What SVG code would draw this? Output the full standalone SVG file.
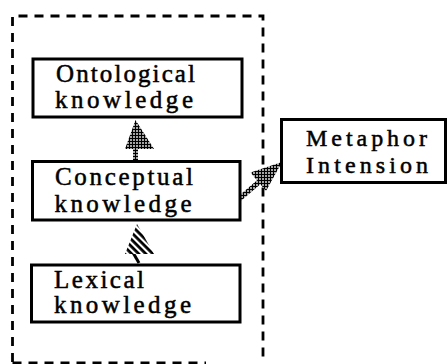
<svg xmlns="http://www.w3.org/2000/svg" width="447" height="364" viewBox="0 0 447 364">
<style>
.box{fill:#fff;stroke:#000;stroke-width:3}
.t{font-family:"Liberation Serif","Times New Roman",serif;font-size:25px;fill:#000;stroke:#000;stroke-width:0.5}
.m{font-family:"Liberation Serif","Times New Roman",serif;font-size:24px;fill:#000;stroke:#000;stroke-width:0.5}
.dash{fill:none;stroke:#000;stroke-width:2.8}
</style>
<defs>
<pattern id="dots" width="3" height="3" patternUnits="userSpaceOnUse">
<rect width="3" height="3" fill="#000"/>
<rect x="1.2" y="1.2" width="1.6" height="1.6" fill="#fff"/>
</pattern>
<pattern id="stripes" width="5" height="5" patternUnits="userSpaceOnUse" patternTransform="rotate(45)">
<rect width="5" height="5" fill="#fff"/>
<rect width="5" height="2.8" fill="#000"/>
</pattern>
</defs>
<g id="container">
<path class="dash" d="M12.5,362 V16 H263 V363" stroke-dasharray="9,7"/>
<path class="dash" d="M12.5,363 H206" stroke="#444" stroke-dasharray="9,7"/>
</g>
<g id="connectors">
<rect x="133" y="147" width="5" height="14" fill="url(#dots)"/>
<polygon points="135.5,120 125,149 154,149" fill="url(#dots)"/>
<rect x="134" y="251" width="3" height="13" fill="#000" transform="rotate(-30 135.5 257)"/>
<polygon points="137,224 125,254 154,254" fill="url(#stripes)"/>
<line x1="238" y1="200" x2="259" y2="182" stroke="url(#dots)" stroke-width="5"/>
<polygon points="282,162 250.5,172.5 266,191" fill="url(#dots)"/>
</g>
<g id="ontological">
<rect class="box" x="33" y="59" width="209" height="58"/>
<text class="t" x="56" y="82" textLength="139" lengthAdjust="spacing">Ontological</text>
<text class="t" x="55" y="108" textLength="138" lengthAdjust="spacing">knowledge</text>
</g>
<g id="conceptual">
<rect class="box" x="32.5" y="161.5" width="207.5" height="58.5"/>
<text class="t" x="55" y="185" textLength="138" lengthAdjust="spacing">Conceptual</text>
<text class="t" x="54.5" y="212" textLength="137" lengthAdjust="spacing">knowledge</text>
</g>
<g id="lexical">
<rect class="box" x="31.5" y="265" width="208.5" height="57"/>
<text class="t" x="54" y="288" textLength="90" lengthAdjust="spacing">Lexical</text>
<text class="t" x="54" y="313" textLength="137" lengthAdjust="spacing">knowledge</text>
</g>
<g id="metaphor">
<rect class="box" x="281.5" y="119.5" width="164" height="63"/>
<text class="m" x="306" y="146" textLength="121" lengthAdjust="spacing">Metaphor</text>
<text class="m" x="306" y="173" textLength="122" lengthAdjust="spacing">Intension</text>
</g>
</svg>
